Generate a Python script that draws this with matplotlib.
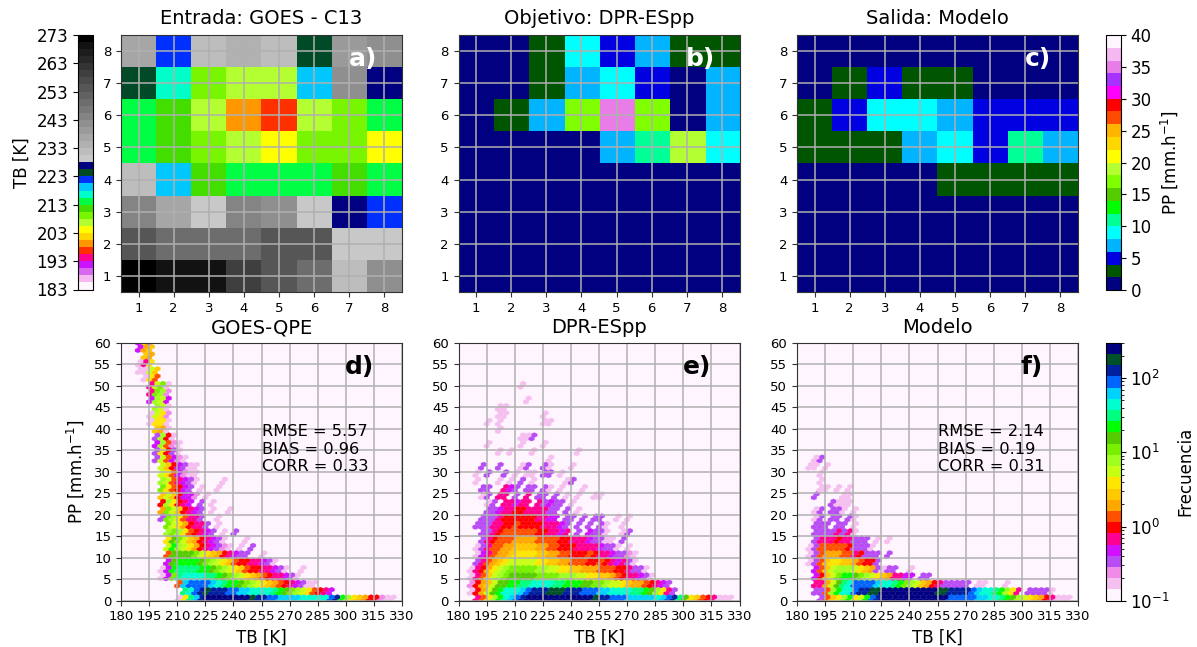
import numpy as np
import matplotlib
matplotlib.use("Agg")
import matplotlib.pyplot as plt
from matplotlib.colors import ListedColormap, LogNorm, Normalize

# top row, 8x8 cells, rows listed from y=8 down to y=1
tb_input = [
    [235.8, 221.8, 231.0, 234.3, 231.4, 224.3, 239.2, 241.2],
    [224.3, 216.8, 209.3, 206.8, 206.8, 219.3, 241.2, 226.8],
    [214.3, 211.8, 206.8, 199.3, 196.8, 206.8, 209.3, 214.3],
    [214.3, 211.8, 209.3, 206.8, 204.3, 209.3, 209.3, 204.3],
    [231.0, 219.3, 211.8, 214.3, 214.3, 214.3, 211.8, 214.3],
    [243.5, 237.8, 229.3, 243.5, 241.2, 230.0, 226.8, 221.8],
    [253.0, 250.3, 248.0, 250.3, 254.8, 254.8, 229.3, 230.0],
    [271.7, 268.0, 268.5, 259.0, 254.8, 250.0, 232.0, 242.8],
]
pp_target = [
    [1, 1, 3, 9, 5, 7, 3, 3],
    [1, 1, 3, 7, 9, 5, 1, 7],
    [1, 3, 7, 17, 35, 17, 1, 7],
    [1, 1, 1, 1, 7, 11, 19, 9],
    [1, 1, 1, 1, 1, 1, 1, 1],
    [1, 1, 1, 1, 1, 1, 1, 1],
    [1, 1, 1, 1, 1, 1, 1, 1],
    [1, 1, 1, 1, 1, 1, 1, 1],
]
pp_model = [
    [1, 1, 1, 1, 1, 1, 1, 1],
    [1, 3, 5, 3, 3, 1, 1, 1],
    [3, 5, 9, 9, 7, 5, 5, 5],
    [3, 3, 3, 7, 9, 5, 11, 7],
    [1, 1, 1, 1, 3, 3, 3, 3],
    [1, 1, 1, 1, 1, 1, 1, 1],
    [1, 1, 1, 1, 1, 1, 1, 1],
    [1, 1, 1, 1, 1, 1, 1, 1],
]

# colour steps
pp_colors = ["#000080", "#005500", "#0000e0", "#00b4ff", "#00ffff", "#00ff96", "#00ff00",
             "#55cc00", "#80ff00", "#b4ff32", "#ffff00", "#ffd700", "#ffb400", "#ff4b00",
             "#ff0000", "#ff00ff", "#a832ff", "#e87de8", "#f5b8f0", "#fff5ff"]
tb_colors = ["#fff5ff", "#f5b8f0", "#d868f0", "#c814ff", "#ff0090", "#ff3000", "#ff9800",
             "#ffd700", "#ffff00", "#b4ff32", "#78f500", "#44dd00", "#00ff44", "#00ffc8",
             "#00c8ff", "#0030ff", "#004a28", "#000080",
             "#c8c8c8", "#bdbdbd", "#b1b1b1", "#a6a6a6", "#9a9a9a", "#8f8f8f", "#848484",
             "#787878", "#6d6d6d", "#616161", "#565656", "#4b4b4b", "#3f3f3f", "#343434",
             "#282828", "#1d1d1d", "#121212", "#000000"]
freq_colors = ["#fff5ff", "#f5c0f0", "#f08ce8", "#b84cf5", "#d010ff", "#ff0090", "#ff0000",
               "#ff5000", "#ffa800", "#ffc800", "#ffe600", "#c8ff14", "#a0ff20", "#78f000",
               "#55cc00", "#00ff00", "#00ff80", "#00ffd0", "#00d2ff", "#0064ff", "#0020a0",
               "#00502a", "#000080"]

# frequency read per colour letter
freq_letters = "abcdefghijklmnopqrstuv"
freq_values = [0.169, 0.239, 0.338, 0.479, 0.678, 0.96, 1.36, 1.93, 2.73, 3.87, 5.48,
               7.76, 11.0, 15.6, 22.0, 31.2, 44.2, 62.6, 88.6, 125.6, 178.0, 252.0]

# hex tables: one char per 3 K from 180 K, one row per 60/35 mm/h, top row is 60
hex_goes = [
    "   djc",
    "   dhi",
    "    ih",
    "   aej",
    "   aaki",
    "    ajg",
    "     ekma",
    "     emlb",
    "     dlkd",
    "      lka",
    "     akjb",
    "     ajja",
    "      iha",
    "      clfa",
    "      dlgba",
    "      cjfca",
    "      ckgdba",
    "       kifdcaa",
    "       kjgdbaa",
    "       lkgedca    a",
    "       mjgfdc a  a",
    "       ikifddb a",
    "       fljfed c a",
    "       hmkifedc a  a",
    "       cmljgeec  a",
    "        mkjhfeec a",
    "        lmljgfedc a c",
    "        jnmkihfedca   a",
    "        kolkjhfedcba a c",
    "        gnnnnmkjihfedcc  a",
    "        dnoooonmlkjigffeedca",
    "       adoppppoonmlkjigffeedca  a",
    "       admpqqqqpponmlkjihgfeedca",
    "          grssssrqpoonmlkjihgfedcaa",
    "           pqstutttssrrqqqqponmlkjgfed",
    "          ajprtvvvvvvvvuttssrrrrqqqqqstoljihffbaa",
]
hex_dpr = [
    "",
    "",
    "",
    "",
    "",
    "",
    "           a",
    "",
    "            a",
    "       aa",
    "       aa      a",
    "     a a       aa",
    "       a",
    "           aac",
    "     a     a   a",
    "       a a   a       a",
    "                a",
    "    c  c   ac  ca   a",
    "   a c  c a aa cc a",
    "   a   a a c a     ac",
    "    cc  edc cc ca a   a",
    "    ac ee c e cc c a a  aa",
    "     ac eedee ecdcc a",
    "     ccdeeffeeeecc c a",
    "    ccceffffffeedd cc c cc  a a",
    "   ccceeffgffffeeedc c c ca  a",
    "    ccefggggggffeede c dcca  ac",
    "    cefggghhhhggggffeeedccaa c",
    "   acegghhiiiihhggfffeeeedcca a",
    "   adeghhijjjjiihhggfffgfeedccba",
    "   ceghijkkkkkjjiihhgggffgfedeca",
    "  aefhjklmmmmmllkkjjiihhhgggffecca",
    "  aegiklmnnnnnmmmmlllkkjjiihgfeedca",
    "  bfhiknnooppqqqqppooonnmmlkkjihhgfedc",
    "  afhknoqqqrstttuuutttsssrrqqqqpponljec",
    "   egjloqrstvvvvvvvvvvvvuttsssrrrrrqrstpnjigfeaaa",
]
hex_model = [
    "",
    "",
    "",
    "",
    "",
    "",
    "",
    "",
    "",
    "",
    "",
    "",
    "",
    "",
    "",
    "",
    "   ac",
    "  aa a",
    "    a",
    "    a",
    "    aa a a",
    "   c    aa",
    "      caaa",
    "   ac cca a",
    "   ac cc ca",
    "   ccc cc a",
    "   ccccecea",
    "   ceeefeeccc a a",
    "  acgggggfccca",
    "  acghhhggefccc c",
    "  acgijjiihgffc",
    "   dgiklllkjihcacc  a",
    "   dfikmoonmlkjiheedd cc",
    "   eehknpqssssrqqpomlkihfeccccc aa   a",
    "   ccgloqqsttuuvvvvvvvvvvuuttttsrqqpolje cccca",
    "    cgijlojkostvvvvvvvvvvvvsssssrrqqponlkjihfeaaa",
]

titles_top = ["Entrada: GOES - C13", "Objetivo: DPR-ESpp", "Salida: Modelo"]
titles_bottom = ["GOES-QPE", "DPR-ESpp", "Modelo"]
labels_top = ["a)", "b)", "c)"]
labels_bottom = ["d)", "e)", "f)"]
stats_goes = "RMSE = 5.57\nBIAS = 0.96\nCORR = 0.33"
stats_model = "RMSE = 2.14\nBIAS = 0.19\nCORR = 0.31"
cell_ticks = [1, 2, 3, 4, 5, 6, 7, 8]
tb_ticks = list(range(180, 331, 15))
pp_ticks = list(range(0, 61, 5))

W, H = 1197, 647
fig = plt.figure(figsize=(W / 100, H / 100), dpi=100)
GRID = "#b0b0b0"
EDGE = "#333333"


def box(left, top, right, bottom):
    # pixel box to figure fractions
    return [left / W, 1 - bottom / H, (right - left) / W, (bottom - top) / H]


def hex_points(rows):
    xs, ys, cs = [], [], []
    step = 60 / 35
    for k, row in enumerate(rows):
        y = (len(rows) - 1 - k) * step
        for j, ch in enumerate(row):
            if ch == " ":
                continue
            f = freq_values[freq_letters.index(ch)]
            xs += [180 + 3 * j, 181.5 + 3 * j]
            ys += [y, y + step / 2]
            cs += [f, f]
    return xs, ys, cs


lefts = [121, 458.5, 797]
tb_cmap = ListedColormap(tb_colors)
pp_cmap = ListedColormap(pp_colors)
freq_cmap = ListedColormap(freq_colors)
tb_norm = Normalize(183, 273)
pp_norm = Normalize(0, 40)
freq_norm = LogNorm(0.1, 300)

images = []
for i, (data, cmap, norm) in enumerate([(tb_input, tb_cmap, tb_norm),
                                        (pp_target, pp_cmap, pp_norm),
                                        (pp_model, pp_cmap, pp_norm)]):
    ax = fig.add_axes(box(lefts[i], 35, lefts[i] + 281, 292))
    im = ax.imshow(np.array(data), cmap=cmap, norm=norm, aspect="auto",
                   extent=(0.5, 8.5, 0.5, 8.5), interpolation="nearest")
    images.append(im)
    ax.set_xticks(cell_ticks)
    ax.set_yticks(cell_ticks)
    ax.tick_params(labelsize=9.5, color=EDGE)
    ax.grid(True, color=GRID, linewidth=1.1)
    ax.set_title(titles_top[i], fontsize=14, pad=8)
    ax.text(0.81, 0.905, labels_top[i], transform=ax.transAxes, color="white",
            fontsize=18, fontweight="bold", ha="left", va="center")
    for s in ax.spines.values():
        s.set_color(EDGE)

hexes = []
for i, rows in enumerate([hex_goes, hex_dpr, hex_model]):
    ax = fig.add_axes(box(lefts[i], 343, lefts[i] + 281, 600.7))
    ax.set_facecolor(freq_colors[0])
    x, y, c = hex_points(rows)
    hb = ax.hexbin(x, y, C=c, gridsize=(50, 35), extent=(180, 330, 0, 60),
                   reduce_C_function=np.max, cmap=freq_cmap, norm=freq_norm,
                   linewidths=0.2, edgecolors="face")
    hexes.append(hb)
    ax.set_xlim(180, 330)
    ax.set_ylim(0, 60)
    ax.set_xticks(tb_ticks)
    ax.set_yticks(pp_ticks)
    ax.tick_params(labelsize=9.5, color=EDGE)
    ax.grid(True, color=GRID, linewidth=1.1)
    ax.set_title(titles_bottom[i], fontsize=14, pad=7)
    ax.set_xlabel("TB [K]", fontsize=12, labelpad=4)
    ax.text(0.797, 0.907, labels_bottom[i], transform=ax.transAxes, color="black",
            fontsize=18, fontweight="bold", ha="left", va="center")
    if i == 0:
        ax.set_ylabel("PP [mm.h$^{-1}$]", fontsize=12, labelpad=6)
        ax.text(255, 29.5, stats_goes, fontsize=11.7, va="bottom", linespacing=1.2)
    if i == 2:
        ax.text(255, 29.5, stats_model, fontsize=11.7, va="bottom", linespacing=1.2)
    for s in ax.spines.values():
        s.set_color(EDGE)

# colorbars
cax = fig.add_axes(box(78, 35, 93, 289.5))
cb = fig.colorbar(images[0], cax=cax, ticks=list(range(183, 274, 10)))
cax.yaxis.set_ticks_position("left")
cax.yaxis.set_label_position("left")
cb.ax.tick_params(labelsize=12)
cb.set_label("TB [K]", fontsize=12, labelpad=4)

cax = fig.add_axes(box(1106, 35, 1120.7, 290))
cb = fig.colorbar(images[1], cax=cax, ticks=list(range(0, 41, 5)))
cb.ax.tick_params(labelsize=12)
cb.set_label("PP [mm.h$^{-1}$]", fontsize=12, labelpad=5)

cax = fig.add_axes(box(1106, 342.7, 1120.7, 600.7))
cb = fig.colorbar(hexes[0], cax=cax)
cb.ax.tick_params(labelsize=12)
cb.set_label("Frecuencia", fontsize=12, labelpad=5)

fig.savefig("out.png", dpi=100)
